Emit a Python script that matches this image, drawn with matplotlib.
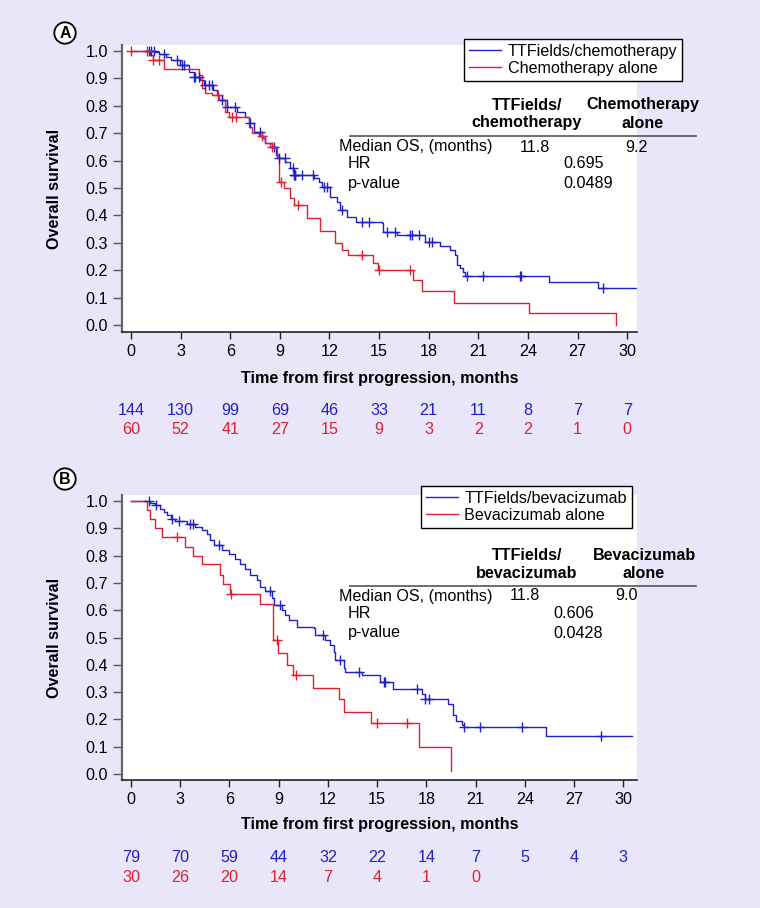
"""
Kaplan-Meier overall survival, TTFields + chemotherapy / bevacizumab subgroups.
"""
import numpy as np
import matplotlib
matplotlib.use("Agg")
import matplotlib.pyplot as plt
import matplotlib.transforms as mtransforms
from matplotlib.lines import Line2D

# ── Global style ─────────────────────────────────────────────────────────────
plt.rcParams.update({
    "font.family":      ["Liberation Sans", "DejaVu Sans"],
    "font.size":        11.6,
    "xtick.labelsize":  11.6,
    "ytick.labelsize":  11.6,
})

BG   = "#E8E6F8"
BLUE = "#2020C8"
RED  = "#E0202E"
W, H = 760, 908

# ── Data: panel A (chemotherapy) ─────────────────────────────────────────────
a_tt_time = [0, 1.47, 1.67, 2.10, 2.40, 2.98, 3.49, 3.79, 4.19, 4.39, 4.95, 5.20,
             5.50, 5.80, 6.41, 6.91, 7.11, 7.42, 7.92, 8.12, 8.52, 8.77, 8.93,
             9.33, 9.63, 9.83, 11.04, 11.35, 11.55, 12.05, 12.46, 12.63, 13.04,
             13.60, 15.16, 15.26, 16.07, 17.80, 18.68, 19.29, 19.60, 19.73,
             19.90, 20.09, 20.19, 25.29, 28.22, 30.60]
a_tt_surv = [1.0, 0.995, 0.990, 0.979, 0.967, 0.949, 0.925, 0.906, 0.894, 0.876,
             0.858, 0.839, 0.821, 0.797, 0.779, 0.760, 0.736, 0.706, 0.681, 0.663,
             0.651, 0.620, 0.608, 0.596, 0.572, 0.548, 0.538, 0.523, 0.505, 0.468,
             0.450, 0.420, 0.395, 0.377, 0.371, 0.338, 0.328, 0.304, 0.289, 0.274,
             0.255, 0.219, 0.207, 0.195, 0.180, 0.158, 0.134, 0.134]
a_tt_cens = [1.07, 1.23, 1.37, 1.97, 2.78, 3.08, 3.18, 3.79, 3.89, 4.09, 4.49, 4.72,
             4.88, 5.50, 5.80, 6.31, 7.17, 7.82, 8.62, 8.93, 9.29, 9.77, 9.83, 9.89,
             9.93, 10.34, 11.0, 11.65, 11.85, 12.76, 13.97, 14.37, 15.5, 15.97,
             16.87, 16.97, 17.4, 18.0, 18.2, 20.29, 21.3, 23.5, 23.6, 28.52]

a_ct_time = [0, 1.17, 1.30, 1.97, 4.09, 4.29, 4.49, 4.90, 5.30, 5.70, 5.90, 7.11,
             7.32, 7.72, 8.12, 8.42, 8.83, 8.93, 9.23, 9.63, 9.83, 10.62, 11.43,
             12.33, 12.74, 13.14, 14.63, 14.93, 17.07, 17.57, 19.53, 24.04, 29.32]
a_ct_surv = [1.0, 0.985, 0.967, 0.934, 0.912, 0.864, 0.846, 0.839, 0.821, 0.779,
             0.760, 0.724, 0.700, 0.688, 0.663, 0.651, 0.614, 0.523, 0.499, 0.462,
             0.438, 0.389, 0.344, 0.298, 0.274, 0.255, 0.225, 0.201, 0.164, 0.125,
             0.081, 0.043, 0.0]
a_ct_cens = [0.0, 0.97, 1.35, 1.71, 5.28, 6.09, 6.35, 7.9, 8.52, 9.07, 10.12,
             13.95, 15.0, 16.87]

a_risk_tt = [144, 130, 99, 69, 46, 33, 21, 11, 8, 7, 7]
a_risk_ct = [60, 52, 41, 27, 15, 9, 3, 2, 2, 1, 0]

# ── Data: panel B (bevacizumab) ──────────────────────────────────────────────
b_tt_time = [0, 1.18, 1.48, 1.79, 1.99, 2.19, 2.46, 2.70, 3.41, 3.92, 4.33, 4.63,
             4.83, 5.04, 5.54, 5.95, 6.36, 6.66, 6.97, 7.27, 7.68, 7.88, 8.19,
             8.59, 8.69, 9.20, 9.40, 9.61, 10.12, 11.13, 11.23, 11.84, 12.15,
             12.35, 12.45, 12.96, 13.06, 14.06, 15.17, 15.99, 17.71, 17.92,
             19.34, 19.64, 19.80, 20.14, 20.29, 25.29, 30.55]
b_tt_surv = [1.0, 0.994, 0.984, 0.972, 0.960, 0.950, 0.935, 0.925, 0.917, 0.905,
             0.893, 0.880, 0.856, 0.838, 0.819, 0.807, 0.789, 0.770, 0.752, 0.728,
             0.709, 0.685, 0.669, 0.643, 0.618, 0.600, 0.582, 0.563, 0.539, 0.533,
             0.508, 0.490, 0.471, 0.447, 0.417, 0.390, 0.375, 0.363, 0.337, 0.313,
             0.294, 0.276, 0.258, 0.215, 0.193, 0.179, 0.172, 0.138, 0.138]
b_tt_cens = [1.12, 1.54, 2.50, 2.94, 3.62, 3.76, 5.34, 8.45, 9.10, 11.70, 12.71,
             13.87, 15.4, 15.5, 17.41, 17.92, 18.18, 20.29, 21.27, 23.85, 28.62]

b_bv_time = [0, 0.95, 1.16, 1.46, 1.87, 3.29, 3.80, 4.31, 5.43, 5.59, 6.03, 7.86,
             8.67, 8.98, 9.50, 9.90, 11.10, 12.70, 12.98, 14.60, 17.57, 19.48]
b_bv_surv = [1.0, 0.967, 0.934, 0.900, 0.869, 0.833, 0.799, 0.769, 0.729, 0.696,
             0.659, 0.623, 0.490, 0.443, 0.400, 0.363, 0.314, 0.274, 0.226, 0.186,
             0.098, 0.010]
b_bv_cens = [2.82, 6.07, 8.9, 10.05, 14.97, 16.8]

b_risk_tt = [79, 70, 59, 44, 32, 22, 14, 7, 5, 4, 3]
b_risk_bv = [30, 26, 20, 14, 7, 4, 1, 0]

x_ticks = list(range(0, 31, 3))
y_ticks = [i / 10 for i in range(11)]


# ── Helpers ──────────────────────────────────────────────────────────────────
def fx(x):
    return x / W


def fy(y):
    return 1 - y / H


def surv_at(times, surv, t):
    idx = np.searchsorted(times, t, side="right") - 1
    return np.asarray(surv)[idx]


def km(ax, times, surv, cens, color):
    ax.step(times, surv, where="post", color=color, lw=1.0, zorder=3)
    ax.plot(cens, surv_at(times, surv, cens), ls="none", marker="+",
            ms=7, mew=1.0, color=color, zorder=4)


def panel(fig, top, bottom, xlim, ylim, letter, letter_y,
          curves, labels, risks, legend_box, table, label_y, risk_y):
    ax = fig.add_axes([fx(122), fy(bottom), fx(637) - fx(122), (bottom - top) / H])
    ax.set_facecolor("white")
    for (t, s, c, col) in curves:
        km(ax, t, s, c, col)
    ax.set_xlim(*xlim)
    ax.set_ylim(*ylim)
    ax.set_xticks(x_ticks)
    ax.set_yticks(y_ticks)
    ax.set_yticklabels([f"{v:.1f}" for v in y_ticks])
    for s in ("top", "right"):
        ax.spines[s].set_visible(False)
    ax.spines["left"].set_color("#666666")
    ax.spines["left"].set_linewidth(1.6)
    ax.spines["bottom"].set_color("#222222")
    ax.spines["bottom"].set_linewidth(1.2)
    ax.tick_params(axis="y", direction="out", length=6.5, width=1.0,
                   color="#555555", pad=3.5)
    ax.tick_params(axis="x", direction="out", length=5, width=1.0,
                   color="#222222", pad=4)
    ax.set_ylabel("Overall survival", fontweight="bold")
    ax.yaxis.set_label_coords((62 - 122) / (637 - 122), 0.5)
    ax.set_xlabel("Time from first progression, months", fontweight="bold")
    ax.xaxis.set_label_coords(0.501, (bottom - label_y) / (bottom - top))
    ax.xaxis.label.set_va("center")

    # number at risk
    tr = mtransforms.blended_transform_factory(ax.transData, fig.transFigure)
    for counts, col, yy in zip(risks, (BLUE, RED), risk_y):
        for x, n in zip(x_ticks, counts):
            ax.text(x, fy(yy), str(n), transform=tr, ha="center", va="center",
                    color=col, clip_on=False)

    # legend
    handles = [Line2D([], [], color=BLUE, lw=1.0), Line2D([], [], color=RED, lw=1.0)]
    lg = ax.legend(handles, labels, loc="upper left",
                   bbox_to_anchor=(fx(legend_box[0]), fy(legend_box[1])),
                   bbox_transform=fig.transFigure, fancybox=False,
                   edgecolor="black", framealpha=1, borderpad=0.3,
                   handlelength=2.0, handletextpad=0.4, labelspacing=0.12,
                   borderaxespad=0)
    lg.get_frame().set_linewidth(1.0)

    # summary table
    hdr1, hdr2, c1x, c2x, line_y, rows_y, med1x, med2x, valx, vals = table
    fig.text(fx(c1x), fy(line_y - 22), hdr1, ha="center", va="center",
             fontweight="bold", linespacing=1.25)
    fig.text(fx(c2x), fy(line_y - 22), hdr2, ha="center", va="center",
             fontweight="bold", linespacing=1.25)
    fig.add_artist(Line2D([fx(350), fx(696)], [fy(line_y), fy(line_y)],
                          color="#555555", lw=1.2))
    fig.text(fx(339), fy(rows_y[0]), "Median OS, (months)", va="center")
    fig.text(fx(348), fy(rows_y[1]), "HR", va="center")
    fig.text(fx(348), fy(rows_y[2]), "p-value", va="center")
    fig.text(fx(med1x), fy(rows_y[0]), vals[0], ha="center", va="center")
    fig.text(fx(med2x), fy(rows_y[0]), vals[1], ha="center", va="center")
    fig.text(fx(valx), fy(rows_y[1]), vals[2], va="center")
    fig.text(fx(valx), fy(rows_y[2]), vals[3], va="center")

    # panel letter
    fig.text(fx(65), fy(letter_y), letter, ha="center", va="center",
             fontweight="bold", fontsize=11.5,
             bbox=dict(boxstyle="circle,pad=0.2", fc="white", ec="black", lw=1.3))
    return ax


# ── Main ─────────────────────────────────────────────────────────────────────
fig = plt.figure(figsize=(W / 100, H / 100), dpi=100, facecolor=BG)

panel(fig, top=45, bottom=332,
      xlim=(-0.544, 30.59), ylim=(-0.0255, 1.0219),
      letter="A", letter_y=33,
      curves=[(a_tt_time, a_tt_surv, a_tt_cens, BLUE),
              (a_ct_time, a_ct_surv, a_ct_cens, RED)],
      labels=["TTFields/chemotherapy", "Chemotherapy alone"],
      risks=[a_risk_tt, a_risk_ct], legend_box=(464, 39),
      table=("TTFields/\nchemotherapy", "Chemotherapy\nalone", 527, 643, 136,
             (147, 164, 183), 535, 636, 563, ("11.8", "9.2", "0.695", "0.0489")),
      label_y=379, risk_y=(410, 430))

panel(fig, top=495, bottom=780,
      xlim=(-0.548, 30.83), ylim=(-0.022, 1.022),
      letter="B", letter_y=479,
      curves=[(b_tt_time, b_tt_surv, b_tt_cens, BLUE),
              (b_bv_time, b_bv_surv, b_bv_cens, RED)],
      labels=["TTFields/bevacizumab", "Bevacizumab alone"],
      risks=[b_risk_tt, b_risk_bv], legend_box=(421, 486),
      table=("TTFields/\nbevacizumab", "Bevacizumab\nalone", 527, 644, 586,
             (596, 614, 633), 525, 626, 553, ("11.8", "9.0", "0.606", "0.0428")),
      label_y=825, risk_y=(857, 877))

fig.savefig("out.png", dpi=100, facecolor=BG)
